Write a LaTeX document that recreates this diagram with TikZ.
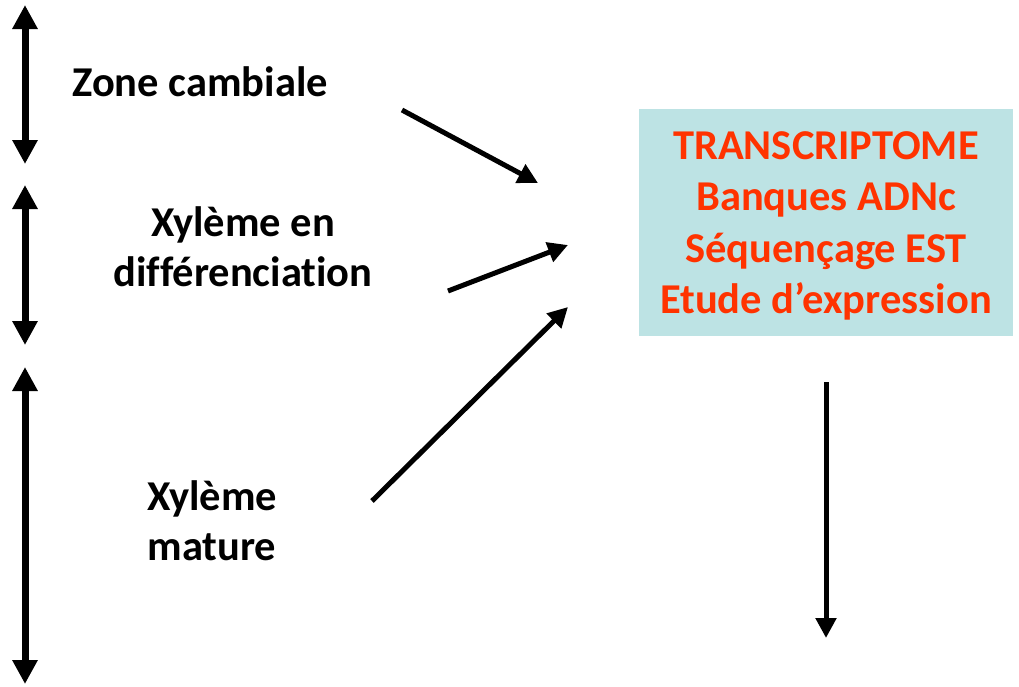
\documentclass[tikz,border=0pt]{standalone}
\usepackage{fontspec}
\setmainfont{Carlito}[Ligatures=NoCommon]
\usetikzlibrary{arrows.meta}
\definecolor{boxfill}{HTML}{BDE3E4}
\definecolor{boxtext}{HTML}{FF3300}
\begin{document}
\begin{tikzpicture}[x=1pt,y=-1pt,
  lbl/.style={font=\fontsize{42.5}{50}\selectfont\bfseries, align=center, inner sep=0pt},
  dbl/.style={line width=7pt, {Triangle[width=24pt,length=24pt]}-{Triangle[width=24pt,length=24pt]}},
  sarr/.style={line width=5pt, -{Triangle[width=20pt,length=20pt]}}]
\useasboundingbox (0,0) rectangle (1019,686);
% left double arrows
\coordinate (a1t) at (25,5); \coordinate (a1b) at (25,164);
\coordinate (a2t) at (25,185); \coordinate (a2b) at (25,345);
\coordinate (a3t) at (25,367); \coordinate (a3b) at (25,684);
\draw[dbl] (a1t) -- (a1b);
\draw[dbl] (a2t) -- (a2b);
\draw[dbl] (a3t) -- (a3b);
% labels
\node[lbl] (zc) at (200,82) {Zone cambiale};
\node[lbl] (xd) at (243,247) {Xylème en\\différenciation};
\node[lbl] (xm) at (212,521) {Xylème\\mature};
% box
\node[fill=boxfill, minimum width=374pt, minimum height=227pt, inner sep=0pt] (boxbg) at (826,222) {};
\node[font=\fontsize{42.5}{51.5}\selectfont\bfseries, text=boxtext, align=center, inner sep=0pt] (box) at (826,226)
  {TRANSCRIPTOME\\Banques ADNc\\Séquençage EST\\Etude d’expression};
% arrows
\coordinate (s1a) at (402,110); \coordinate (s1b) at (538,183);
\coordinate (s2a) at (448,291); \coordinate (s2b) at (568,245);
\coordinate (s3a) at (372,501); \coordinate (s3b) at (568,307);
\draw[sarr] (s1a) -- (s1b);
\draw[sarr] (s2a) -- (s2b);
\draw[sarr] (s3a) -- (s3b);
\coordinate (d1) at (826,382); \coordinate (d2) at (826,638);
\draw[sarr] (d1) -- (d2);
\end{tikzpicture}
\end{document}
